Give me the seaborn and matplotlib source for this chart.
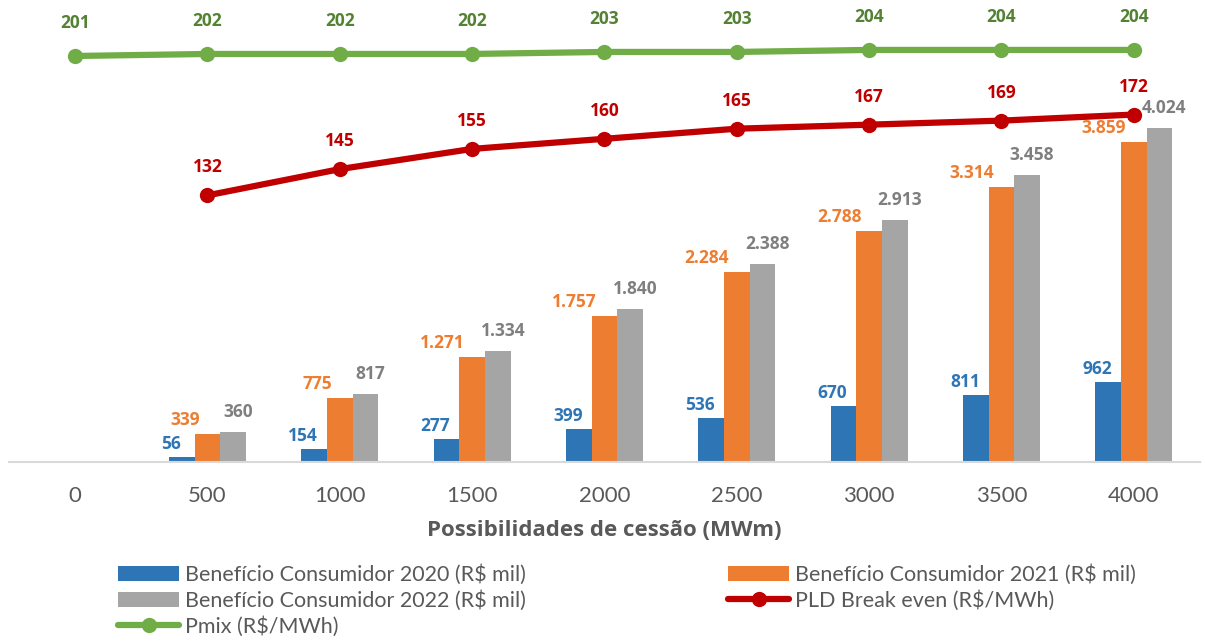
import numpy as np
import pandas as pd
import matplotlib
matplotlib.use("Agg")
import matplotlib.pyplot as plt
import seaborn as sns

# ---------------- data ----------------
categories = ["0", "500", "1000", "1500", "2000", "2500", "3000", "3500", "4000"]
benef_2020 = [np.nan, 56, 154, 277, 399, 536, 670, 811, 962]
benef_2021 = [np.nan, 339, 775, 1271, 1757, 2284, 2788, 3314, 3859]
benef_2022 = [np.nan, 360, 817, 1334, 1840, 2388, 2913, 3458, 4024]
pld_break_even = [np.nan, 132, 145, 155, 160, 165, 167, 169, 172]
pmix = [201, 202, 202, 202, 203, 203, 204, 204, 204]

series_names = ["Benefício Consumidor 2020 (R$ mil)",
                "Benefício Consumidor 2021 (R$ mil)",
                "Benefício Consumidor 2022 (R$ mil)"]
pld_name = "PLD Break even (R$/MWh)"
pmix_name = "Pmix (R$/MWh)"
xlabel = "Possibilidades de cessão (MWm)"

# ---------------- style ----------------
BLUE, ORANGE, GREY = "#2E75B6", "#ED7D31", "#A5A5A5"
RED, GREEN = "#C00000", "#70AD47"
LBL_BLUE, LBL_ORANGE, LBL_GREY = "#2E75B6", "#ED7D31", "#7F7F7F"
LBL_RED, LBL_GREEN = "#C00000", "#548235"
TXT = "#595959"

sns.set_style("white")
plt.rcParams["font.family"] = ["Lato", "DejaVu Sans"]

W, H = 1205, 642
fig = plt.figure(figsize=(W / 100, H / 100), dpi=100)
ax = fig.add_axes([9 / W, (H - 462) / H, 1191 / W, 442 / H])

df = pd.DataFrame({
    "cat": categories * 3,
    "serie": sum([[n] * len(categories) for n in series_names], []),
    "valor": benef_2020 + benef_2021 + benef_2022,
})

sns.barplot(data=df, x="cat", y="valor", hue="serie", order=categories,
            hue_order=series_names, palette=[BLUE, ORANGE, GREY],
            width=0.58, ax=ax, saturation=1, legend=True, linewidth=0)

ax.set_xlim(-0.5, len(categories) - 0.5)
ax.set_ylim(0, 442 / 0.083)
ax.set_yticks([])
ax.set_ylabel("")
ax.set_xlabel(xlabel, fontsize=16, fontweight="bold", color=TXT,
              family=["Open Sans", "DejaVu Sans"], labelpad=10)
ax.tick_params(axis="x", length=0, pad=17, labelsize=16, labelcolor=TXT)
for s in ["left", "right", "top"]:
    ax.spines[s].set_visible(False)
ax.spines["bottom"].set_color("#D9D9D9")
ax.spines["bottom"].set_linewidth(1.5)

def fmt(v):
    return f"{int(round(v)):,}".replace(",", ".")

lblfont = dict(fontsize=12.5, fontweight="bold", family=["Open Sans", "DejaVu Sans"])
px = 1 / 1.389  # points per pixel

def valid(vals):
    return [v for v in vals if not np.isnan(v)]

# bar labels
cont_blue, cont_orange, cont_grey = ax.containers[:3]
for rect, v in zip(cont_blue, valid(benef_2020)):
    ax.annotate(fmt(v), (rect.get_x() + rect.get_width() / 2, v),
                xytext=(-11 * px, 4 * px), textcoords="offset points",
                ha="center", va="bottom", color=LBL_BLUE, **lblfont)
for rect, v in zip(cont_orange, valid(benef_2021)):
    ax.annotate(fmt(v), (rect.get_x(), v),
                xytext=(5 * px, 5 * px), textcoords="offset points",
                ha="right", va="bottom", color=LBL_ORANGE, **lblfont)
for rect, v in zip(cont_grey, valid(benef_2022)):
    ax.annotate(fmt(v), (rect.get_x() + rect.get_width() / 2, v),
                xytext=(5 * px, 11 * px), textcoords="offset points",
                ha="center", va="bottom", color=LBL_GREY, **lblfont)

# lines on secondary axis
ax2 = ax.twinx()
xpos = np.arange(len(categories))
sns.lineplot(x=xpos, y=pmix, ax=ax2, color=GREEN, linewidth=4.5, marker="o",
             markersize=11, markeredgewidth=0, label=pmix_name, legend=False)
sns.lineplot(x=xpos, y=pld_break_even, ax=ax2, color=RED, linewidth=4.5, marker="o",
             markersize=11, markeredgewidth=0, label=pld_name, legend=False)
ax2.set_ylim(0, 442 / 2.02)
ax2.set_yticks([])
ax2.set_ylabel("")
for s in ["left", "right", "top", "bottom"]:
    ax2.spines[s].set_visible(False)
ax2.set_xlim(-0.5, len(categories) - 0.5)

for xi, v in zip(xpos, pmix):
    ax2.annotate(str(v), (xi, v), xytext=(0, 24 * px), textcoords="offset points",
                 ha="center", va="bottom", color=LBL_GREEN, **lblfont)
for xi, v in zip(xpos, pld_break_even):
    if np.isnan(v):
        continue
    ax2.annotate(str(int(v)), (xi, v), xytext=(0, 19 * px), textcoords="offset points",
                 ha="center", va="bottom", color=LBL_RED, **lblfont)

# legend
h1, l1 = ax.get_legend_handles_labels()
ax.get_legend().remove()
h2, l2 = ax2.get_legend_handles_labels()
hd = dict(zip(l1 + l2, h1 + h2))
order = [series_names[0], series_names[2], pmix_name, series_names[1], pld_name]
leg = fig.legend([hd[k] for k in order], order, ncol=2, loc="upper left",
                 bbox_to_anchor=(118 / W, 1 - 564 / H), frameon=False,
                 fontsize=15.5, borderpad=0, borderaxespad=0, handletextpad=0.25,
                 handlelength=2.85, handleheight=0.7, columnspacing=9.4,
                 labelspacing=0.25)
for t in leg.get_texts():
    t.set_color(TXT)

fig.savefig("out.png", dpi=100)
